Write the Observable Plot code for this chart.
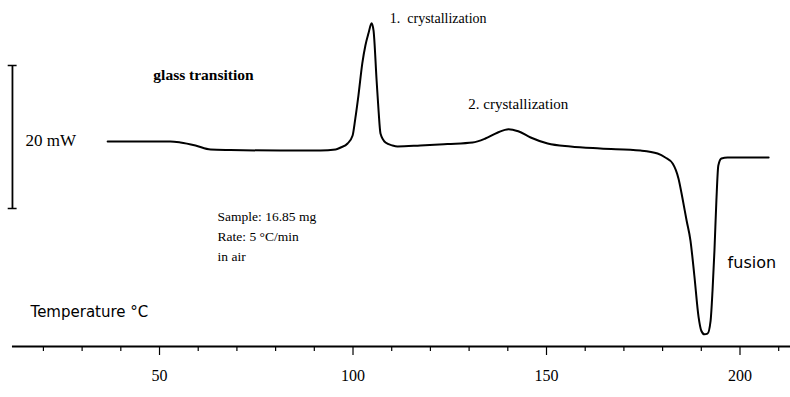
<!DOCTYPE html>
<html><head><meta charset="utf-8">
<script src="https://cdn.jsdelivr.net/npm/d3@7"></script>
<script src="https://cdn.jsdelivr.net/npm/@observablehq/plot@0.6"></script>
<style>
body{margin:0;background:#fff}
.dsc g[aria-label="x-axis tick label"] text{font-family:"Liberation Serif",serif;font-size:16px}
</style>
</head><body><div id="chart"></div>
<script>
// DSC trace: temperature (°C) and heat flow (mW, arbitrary offset)
const temperature = [36.6,45.1,52.8,55.4,59.3,63.2,68.3,81.3,91.6,95.5,96.8,98.6,99.9,100.6,101.4,102.4,103.2,104.0,104.8,105.3,106.1,106.6,107.1,108.4,110.2,111.5,117.4,124.4,130.9,134.2,137.3,140.2,142.7,145.9,150.3,156.2,163.9,174.3,178.7,180.7,182.6,184.1,185.1,186.2,187.2,188.2,189.3,190.0,190.8,191.6,192.4,192.9,193.4,193.9,194.4,195.2,196.8,201.4,207.4];
const heatFlow = [9.37,9.37,9.37,9.23,8.81,8.25,8.18,8.11,8.11,8.25,8.53,9.09,10.2,12.6,15.8,20.3,22.8,24.5,25.9,24.9,17.9,13.7,10.5,9.23,8.81,8.67,8.81,9.02,9.23,9.79,10.6,11.1,10.8,9.93,9.09,8.67,8.39,8.11,7.69,7.13,6.29,4.20,1.54,-1.68,-4.48,-9.37,-15.2,-17.1,-17.6,-17.5,-15.7,-11.5,-5.87,1.12,6.01,6.99,7.13,7.13,7.13];

// Axis ticks
const minorTicks = [20,30,40,60,70,80,90,110,120,130,140,160,170,180,190,210];
const majorTicks = [50,100,150,200];

// Scale bar (20 mW)
const scaleBarValues = [0, 20];

// Annotations (serif)
const serifLabels = ["1.  crystallization", "2. crystallization", "Sample: 16.85 mg", "Rate: 5 °C/min", "in air"];
const serifLabelT = [109.5, 129.8, 65.0, 65.0, 65.0];
const serifLabelQ = [26.57, 14.55, -1.12, -3.92, -6.71];
const serifLabelSize = [14, 15, 13.5, 13.5, 13.5];

const glassLabel = ["glass transition"];
const glassLabelT = [48.4];
const glassLabelQ = [18.6];

const mwLabel = ["20 mW"];
const mwLabelT = [15.4];
const mwLabelQ = [9.51];

// Annotations (sans)
const sansLabels = ["fusion", "Temperature °C"];
const sansLabelT = [196.8, 16.67];
const sansLabelQ = [-7.55, -14.55];
const sansLabelSize = [16, 15];

const curve = temperature.map((t, i) => ({t, q: heatFlow[i]}));
const serifData = serifLabels.map((s, i) => ({s, t: serifLabelT[i], q: serifLabelQ[i], f: serifLabelSize[i]}));
const sansData = sansLabels.map((s, i) => ({s, t: sansLabelT[i], q: sansLabelQ[i], f: sansLabelSize[i]}));

const xDomain = [8.91, 213.05];
const yDomain = [-19.3, 29.09];
const axisLevel = yDomain[0];
const axisStart = 12.0;
const axisEnd = xDomain[1];
const scaleBarT = 12.0;

const chart = Plot.plot({
  width: 790, height: 397,
  className: "dsc",
  marginLeft: 0, marginRight: 0, marginTop: 0, marginBottom: 51,
  x: {domain: xDomain, label: null},
  y: {domain: yDomain, axis: null},
  style: {fontFamily: "Liberation Serif", background: "#fff", color: "#000", fontSize: "16px"},
  marks: [
    Plot.ruleY([axisLevel], {x1: axisStart, x2: axisEnd, stroke: "#000", strokeWidth: 1.8}),
    Plot.axisX(minorTicks, {anchor: "bottom", tickSize: 5, tickFormat: () => "", label: null, strokeWidth: 1.2}),
    Plot.axisX(majorTicks, {anchor: "bottom", tickSize: 9, tickPadding: 14, label: null, strokeWidth: 1.2, fontSize: 16, fontFamily: "Liberation Serif"}),
    Plot.ruleX([scaleBarT], {y1: scaleBarValues[0], y2: scaleBarValues[1], stroke: "#000", strokeWidth: 1.8}),
    Plot.ruleY(scaleBarValues, {x1: scaleBarT - 1.1, x2: scaleBarT + 1.2, stroke: "#000", strokeWidth: 1.5}),
    Plot.line(curve, {x: "t", y: "q", stroke: "#000", strokeWidth: 2, curve: "monotone-x"}),
    Plot.text(serifData, {x: "t", y: "q", text: "s", fontSize: "f", textAnchor: "start", fill: "#000", fontFamily: "Liberation Serif"}),
    Plot.text(glassLabel, {x: glassLabelT, y: glassLabelQ, text: glassLabel, fontSize: 15.5, fontWeight: "bold", textAnchor: "start", fill: "#000", fontFamily: "Liberation Serif"}),
    Plot.text(mwLabel, {x: mwLabelT, y: mwLabelQ, text: mwLabel, fontSize: 17, textAnchor: "start", fill: "#000", fontFamily: "Liberation Serif"}),
    Plot.text(sansData, {x: "t", y: "q", text: "s", fontSize: "f", textAnchor: "start", fill: "#000", fontFamily: "DejaVu Sans"})
  ]
});
document.getElementById("chart").appendChild(chart);
</script>
</body></html>
